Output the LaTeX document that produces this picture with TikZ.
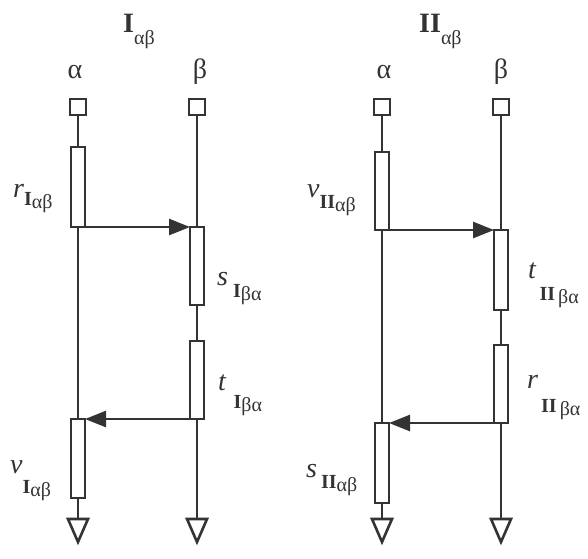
\documentclass[tikz,border=0pt]{standalone}
\usepackage{fontspec}
\setmainfont{Liberation Serif}
\usetikzlibrary{arrows.meta,positioning}
\definecolor{ink}{gray}{0.2}
% label with a lowered subscript: letter, bold index, greek pair, drop
\newcommand{\sublab}[4]{\textit{#1}\raisebox{-#4}{\fontsize{20}{20}\selectfont\bfseries #2\raisebox{-3pt}{\mdseries #3}}}
\newcommand{\headlab}[1]{\textbf{#1}\raisebox{-12pt}{\fontsize{20}{20}\selectfont αβ}}

\begin{document}
\begin{tikzpicture}[x=1pt, y=-1pt, ink,
    wire/.style={line width=2.6pt},
    blk/.style={draw, line width=2.6pt, fill=white, minimum width=14pt, inner sep=0pt, outer sep=0pt},
    term/.style={draw, line width=2.6pt, minimum size=16pt, inner sep=0pt, outer sep=0pt},
    flow/.style={line width=2.6pt, -{Triangle[length=21pt,width=16pt]}},
    lab/.style={font=\fontsize{28}{30}\selectfont, inner sep=0pt, anchor=base west},
    gnd/.style={line width=2.6pt, line join=miter}]
  \useasboundingbox (0,0) rectangle (588,558);
  % Left diagram: I
  \node[lab] (headI) at (123,32) {\headlab{I}};
  \node[lab, anchor=base] (alI) at (75,78) {α};
  \node[lab, anchor=base] (beI) at (200,78) {β};
  \node[term] (tAI) at (78,107) {};
  \node[term] (tBI) at (197,107) {};
  % blocks
  \node[blk, minimum height=80pt] (rI) at (78,187) {};
  \node[blk, minimum height=78pt] (sI) at (197,266) {};
  \node[blk, minimum height=78pt] (tI) at (197,380) {};
  \node[blk, minimum height=79pt] (vI) at (78,458.5) {};
  \coordinate (gAI) at (78,519);
  \coordinate (gBI) at (197,519);
  % wires
  \draw[wire] (tAI.south) -- (rI.north);
  \draw[wire] (rI.south) -- (vI.north);
  \draw[wire] (vI.south) -- (gAI);
  \draw[wire] (tBI.south) -- (sI.north);
  \draw[wire] (sI.south) -- (tI.north);
  \draw[wire] (tI.south) -- (gBI);
  \draw[flow] (rI.south) -- (sI.north west);
  \draw[flow] (tI.south) -- (vI.north east);
  % grounds
  \draw[gnd] (gAI) ++(-10,0) -- ++(20,0) -- ++(-10,23) -- cycle;
  \draw[gnd] (gBI) ++(-10,0) -- ++(20,0) -- ++(-10,23) -- cycle;
  % labels
  \node[lab] (labrI) at (13,197) {\sublab{r}{I}{αβ}{8pt}};
  \node[lab] (labsI) at (217,285) {\sublab{s}{\hspace{5pt}I}{βα}{12pt}};
  \node[lab] (labtI) at (218,390) {\sublab{t}{\hspace{7pt}I}{βα}{18pt}};
  \node[lab] (labvI) at (10,473) {\sublab{v}{I}{αβ}{20pt}};

  % Right diagram: II
  \node[lab] (headII) at (419,32) {\headlab{II}};
  \node[lab, anchor=base] (alII) at (384,78) {α};
  \node[lab, anchor=base] (beII) at (501,78) {β};
  \node[term] (tAII) at (382,107) {};
  \node[term] (tBII) at (501,107) {};
  % blocks
  \node[blk, minimum height=78pt] (vII) at (382,191) {};
  \node[blk, minimum height=80pt] (tII) at (501,270) {};
  \node[blk, minimum height=78pt] (rII) at (501,384) {};
  \node[blk, minimum height=80pt] (sII) at (382,463) {};
  \coordinate (gAII) at (382,519);
  \coordinate (gBII) at (501,519);
  % wires
  \draw[wire] (tAII.south) -- (vII.north);
  \draw[wire] (vII.south) -- (sII.north);
  \draw[wire] (sII.south) -- (gAII);
  \draw[wire] (tBII.south) -- (tII.north);
  \draw[wire] (tII.south) -- (rII.north);
  \draw[wire] (rII.south) -- (gBII);
  \draw[flow] (vII.south) -- (tII.north west);
  \draw[flow] (rII.south) -- (sII.north east);
  % grounds
  \draw[gnd] (gAII) ++(-10,0) -- ++(20,0) -- ++(-10,23) -- cycle;
  \draw[gnd] (gBII) ++(-10,0) -- ++(20,0) -- ++(-10,23) -- cycle;
  % labels
  \node[lab] (labvII) at (307,197) {\sublab{v}{II}{αβ}{11pt}};
  \node[lab] (labtII) at (528,278) {\sublab{t}{\hspace{3pt}II\hspace{3pt}}{βα}{22pt}};
  \node[lab] (labrII) at (527,388) {\sublab{r}{\hspace{3pt}II\hspace{3pt}}{βα}{24pt}};
  \node[lab] (labsII) at (306,477) {\sublab{s}{\hspace{4pt}II}{αβ}{11pt}};
\end{tikzpicture}
\end{document}
